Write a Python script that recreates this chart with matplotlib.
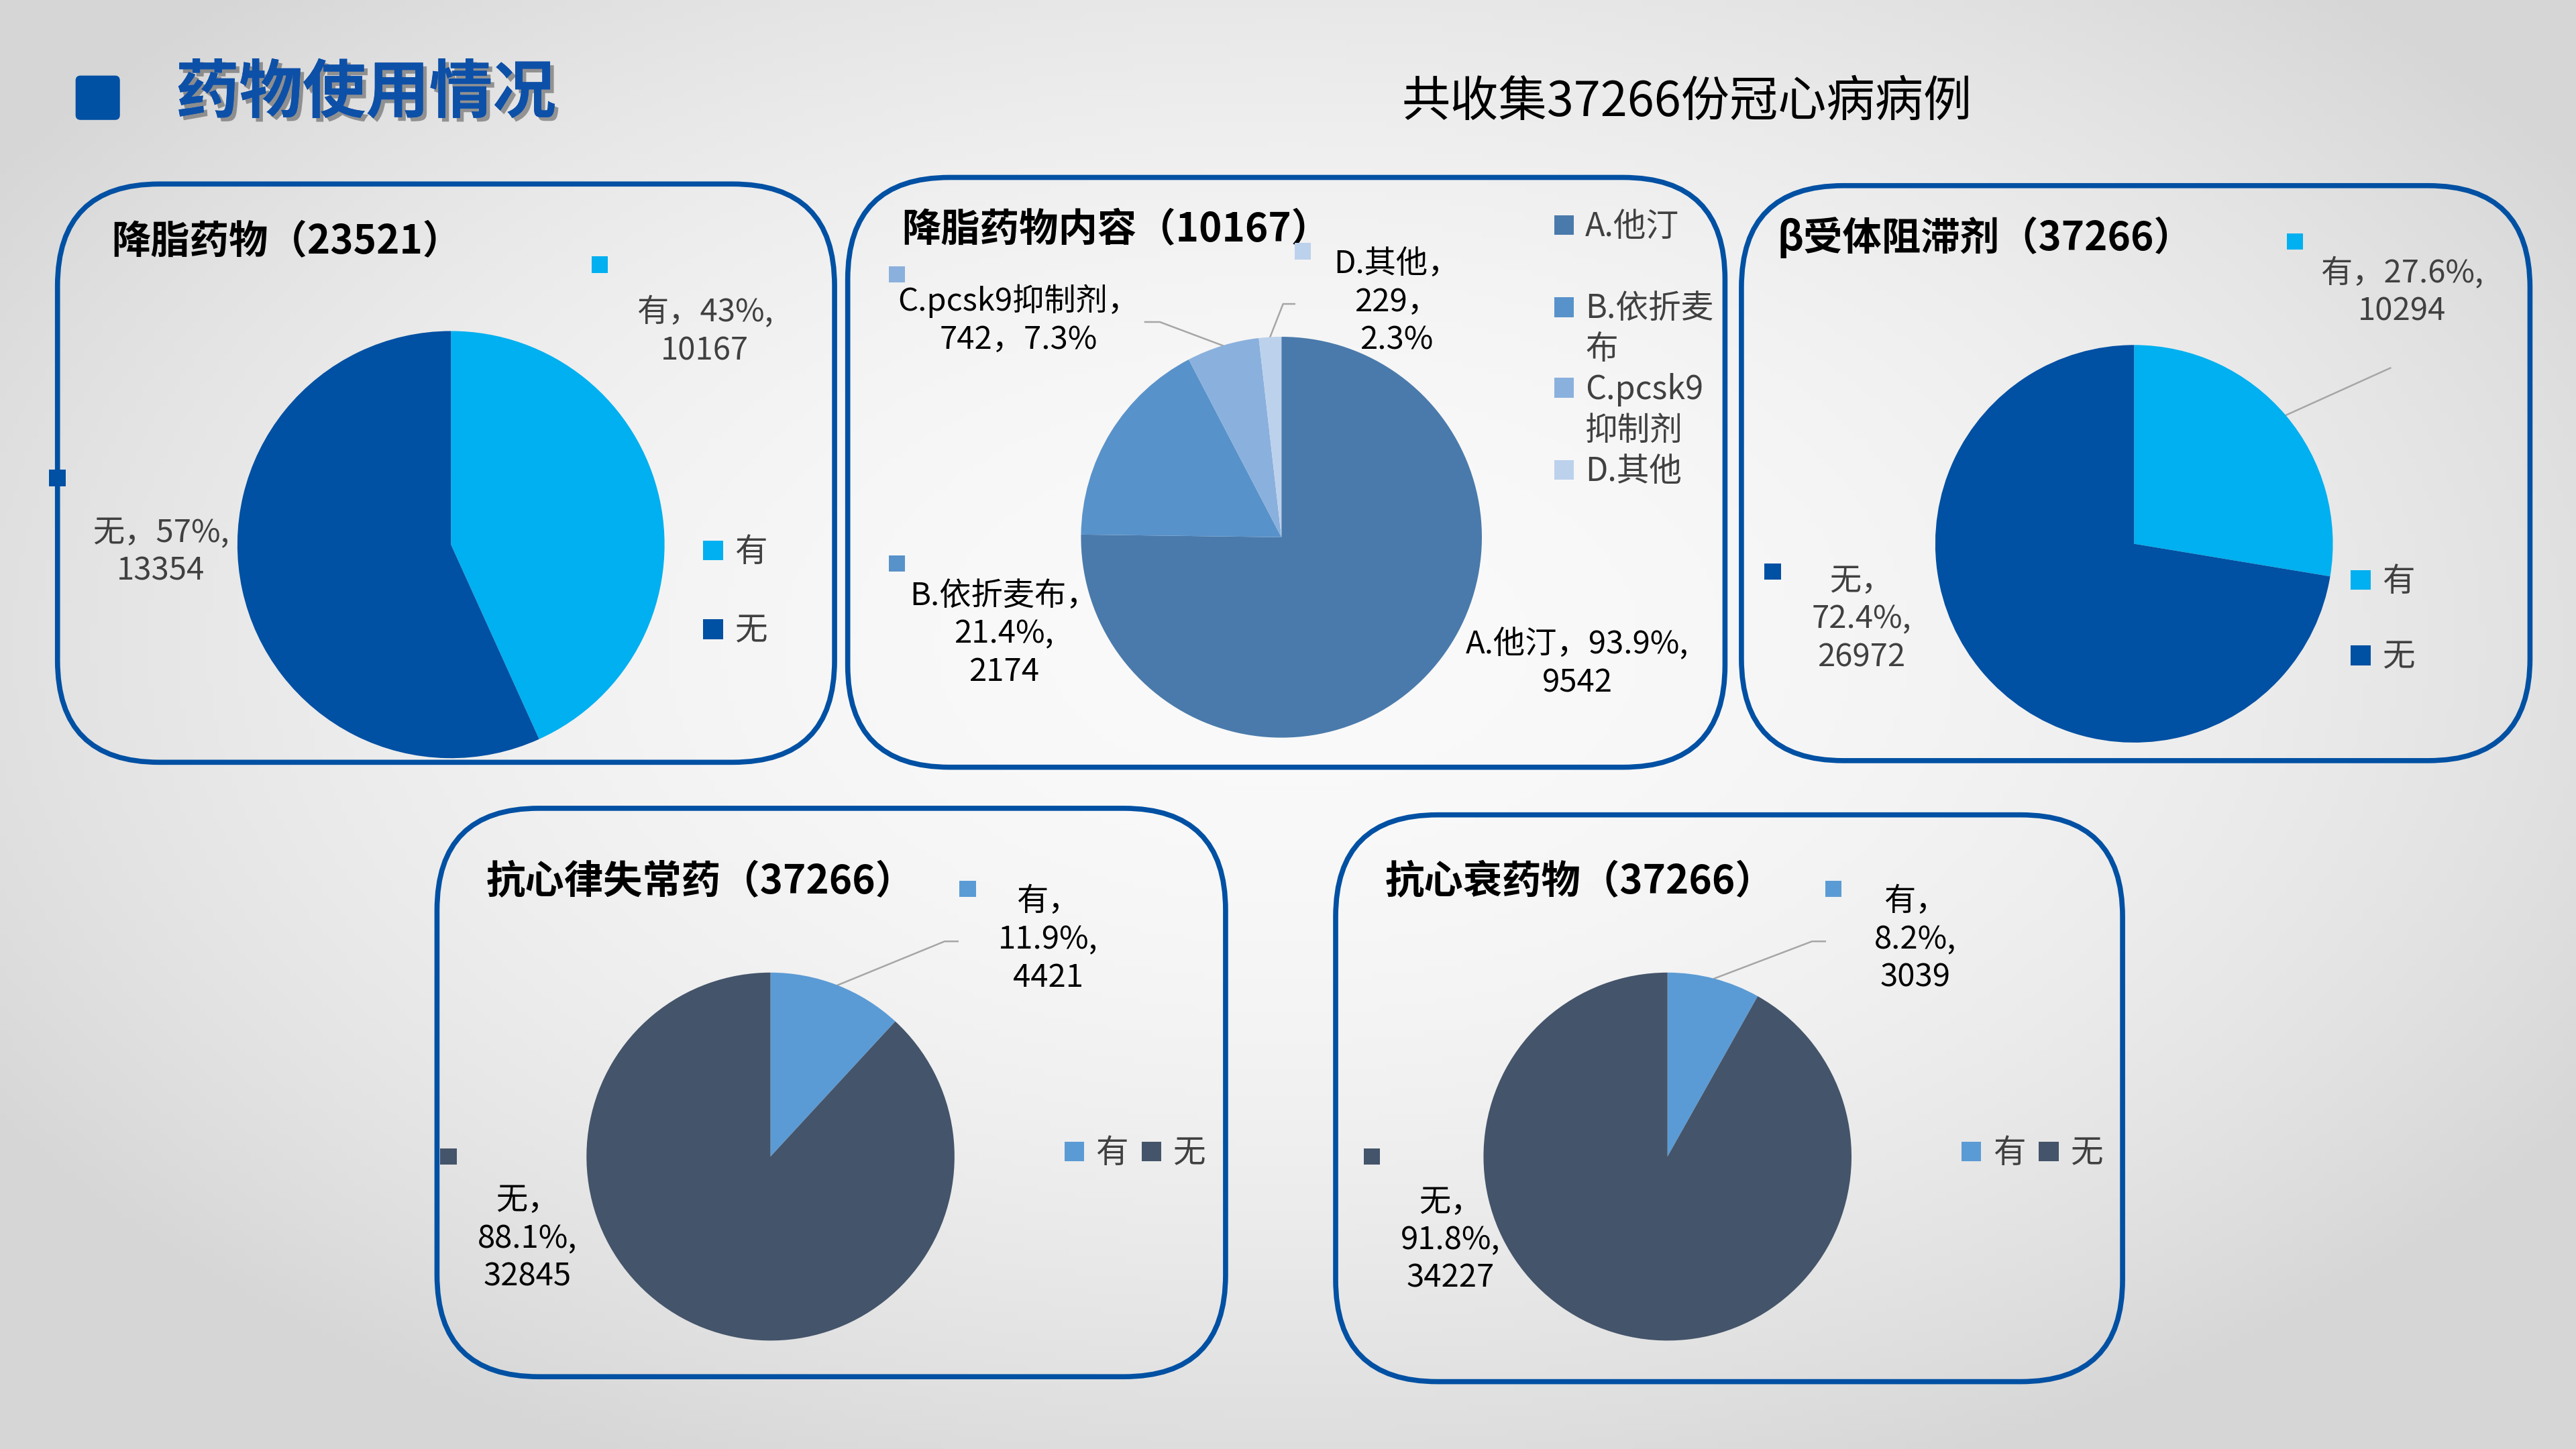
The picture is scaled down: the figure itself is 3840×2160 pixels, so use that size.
import numpy as np
import matplotlib
matplotlib.use("Agg")
import matplotlib.pyplot as plt
from matplotlib.patches import FancyBboxPatch, Rectangle
import matplotlib.patheffects as pe

plt.rcParams['font.family'] = ['Noto Sans CJK SC', 'DejaVu Sans']

# ---- data ----
yes_no = ['有', '无']

lipid_counts = [10167, 13354]
lipid_pct = ['43%', '57%']

content_names = ['A.他汀', 'B.依折麦布', 'C.pcsk9抑制剂', 'D.其他']
content_legend = ['A.他汀', 'B.依折麦\n布', 'C.pcsk9\n抑制剂', 'D.其他']
content_counts = [9542, 2174, 742, 229]
content_pct = ['93.9%', '21.4%', '7.3%', '2.3%']

beta_counts = [10294, 26972]
beta_pct = ['27.6%', '72.4%']

arrhythmia_counts = [4421, 32845]
arrhythmia_pct = ['11.9%', '88.1%']

hf_counts = [3039, 34227]
hf_pct = ['8.2%', '91.8%']

# ---- layout (in a 1568 x 882 reference grid) ----
W, H = 1568, 882
BLUE = '#0050A3'
GRAY = '#404040'

panels = [
    dict(box=(35, 112, 473, 352), title='降脂药物（23521）', title_xy=(68, 147),
         pie=(274.5, 331.5, 130), names=yes_no, counts=lipid_counts, pct=lipid_pct,
         colors=['#00B0F0', '#0050A3'], text_color=GRAY,
         labels=[('{n}，{p},\n{c}', (429, 202), (365, 161), None),
                 ('{n}，{p},\n{c}', (98, 336), (35, 291), None)],
         legend_names=yes_no, legend_xy=[(434, 335), (434, 383)]),
    dict(box=(516, 108, 534, 359), title='降脂药物内容（10167）', title_xy=(549, 140),
         pie=(780, 327, 122), names=content_names, counts=content_counts, pct=content_pct,
         colors=['#4A7AAB', '#5892CA', '#8AB0DD', '#BCD1EC'], text_color='black',
         labels=[('{n}，{p},\n{c}', (960, 404), None, None),
                 ('{n}，\n{p},\n{c}', (611, 386), (546, 343), None),
                 ('{n}，\n{c}，{p}', (620, 195), (546, 167), [(706, 196), (697, 196)]),
                 ('{n}，\n{c}，\n{p}', (850, 184), (793, 153), [(781, 185), (788, 185)])],
         legend_names=content_legend,
         legend_xy=[(952, 137), (952, 187), (952, 236), (952, 286)]),
    dict(box=(1060, 113, 480, 350), title='β受体阻滞剂（37266）', title_xy=(1082, 145),
         pie=(1299, 331, 121), names=yes_no, counts=beta_counts, pct=beta_pct,
         colors=['#00B0F0', '#0050A3'], text_color=GRAY,
         labels=[('{n}，{p},\n{c}', (1462, 178), (1397, 147), [(1455, 224)]),
                 ('{n}，\n{p},\n{c}', (1133, 377), (1079, 348), None)],
         legend_names=yes_no, legend_xy=[(1437, 353), (1437, 399)]),
    dict(box=(266, 492, 480, 346), title='抗心律失常药（37266）', title_xy=(296, 537),
         pie=(469, 704, 112), names=yes_no, counts=arrhythmia_counts, pct=arrhythmia_pct,
         colors=['#5B9BD5', '#44546A'], text_color='black',
         labels=[('{n}，\n{p},\n{c}', (638, 572), (589, 541), [(575, 573), (583, 573)]),
                 ('{n}，\n{p},\n{c}', (321, 754), (273, 704), None)],
         legend_names=yes_no, legend_xy=[(654, 701), (701, 701)]),
    dict(box=(813, 496, 479, 345), title='抗心衰药物（37266）', title_xy=(843, 537),
         pie=(1015, 704, 112), names=yes_no, counts=hf_counts, pct=hf_pct,
         colors=['#5B9BD5', '#44546A'], text_color='black',
         labels=[('{n}，\n{p},\n{c}', (1166, 572), (1116, 541), [(1103, 573), (1111, 573)]),
                 ('{n}，\n{p},\n{c}', (883, 755), (835, 704), None)],
         legend_names=yes_no, legend_xy=[(1200, 701), (1247, 701)]),
]

fig = plt.figure(figsize=(38.4, 21.6), dpi=100)

# background with soft radial gradient
bg = fig.add_axes([0, 0, 1, 1])
gx, gy = np.meshgrid(np.linspace(-1, 1, 400), np.linspace(-1, 1, 225))
dist = np.sqrt((gx * 0.95) ** 2 + (gy * 0.9 + 0.1) ** 2)
shade = np.clip(0.98 - 0.11 * dist ** 2, 0.84, 1.0)
bg.imshow(np.dstack([shade] * 3), extent=(0, W, H, 0), aspect='auto', zorder=0)
bg.set_xlim(0, W)
bg.set_ylim(H, 0)
bg.axis('off')

# page heading
bg.add_patch(FancyBboxPatch((46, 46), 27, 27, boxstyle='round,pad=0,rounding_size=3',
                            fc=BLUE, ec='none', zorder=2))
bg.text(107, 57, '药物使用情况', fontsize=68, fontweight='bold', color='#0D50A8',
        ha='left', va='center', zorder=3,
        path_effects=[pe.withSimplePatchShadow(offset=(4, -4), shadow_rgbFace='#303030', alpha=0.45),
                      pe.Normal()])
bg.text(1027, 62, '共收集37266份冠心病病例', fontsize=52, color='black',
        ha='center', va='center', zorder=3)

for p in panels:
    x0, y0, w, h = p['box']
    bg.add_patch(FancyBboxPatch((x0, y0), w, h, boxstyle='round,pad=0,rounding_size=62',
                                fc='none', ec=BLUE, lw=5.5, zorder=2))
    bg.text(p['title_xy'][0], p['title_xy'][1], p['title'], fontsize=42, fontweight='bold',
            color='black', ha='left', va='center', zorder=3)

    cx, cy, r = p['pie']
    pax = fig.add_axes([(cx - r) / W, 1 - (cy + r) / H, 2 * r / W, 2 * r / H])
    pax.pie(p['counts'], colors=p['colors'], startangle=90, counterclock=False,
            radius=1, wedgeprops=dict(linewidth=0))
    pax.set_xlim(-1, 1)
    pax.set_ylim(-1, 1)
    pax.set_aspect('equal')
    pax.axis('off')

    total = float(sum(p['counts']))
    cum = np.cumsum([0] + list(p['counts'])) / total
    for i, (fmt, txy, mxy, leader) in enumerate(p['labels']):
        txt = fmt.format(n=p['names'][i], p=p['pct'][i], c=p['counts'][i])
        bg.text(txy[0], txy[1], txt, fontsize=34, color=p['text_color'],
                ha='center', va='center', multialignment='center', linespacing=1.22, zorder=3)
        if mxy is not None:
            bg.add_patch(Rectangle((mxy[0] - 5, mxy[1] - 5), 10, 10,
                                   fc=p['colors'][i], ec='none', zorder=3))
        if leader is not None:
            theta = np.deg2rad(360 * (cum[i] + cum[i + 1]) / 2)
            sx, sy = cx + r * np.sin(theta), cy - r * np.cos(theta)
            xs = [sx] + [q[0] for q in leader]
            ys = [sy] + [q[1] for q in leader]
            bg.plot(xs, ys, color='#A6A6A6', lw=1.8, zorder=3)

    for name, col, (lx, ly) in zip(p['legend_names'], p['colors'], p['legend_xy']):
        bg.add_patch(Rectangle((lx - 6, ly - 6), 12, 12, fc=col, ec='none', zorder=3))
        bg.text(lx + 13, ly - 9, name, fontsize=35, color=GRAY, ha='left', va='top',
                linespacing=1.3, zorder=3)

fig.savefig('out.png', dpi=100)
